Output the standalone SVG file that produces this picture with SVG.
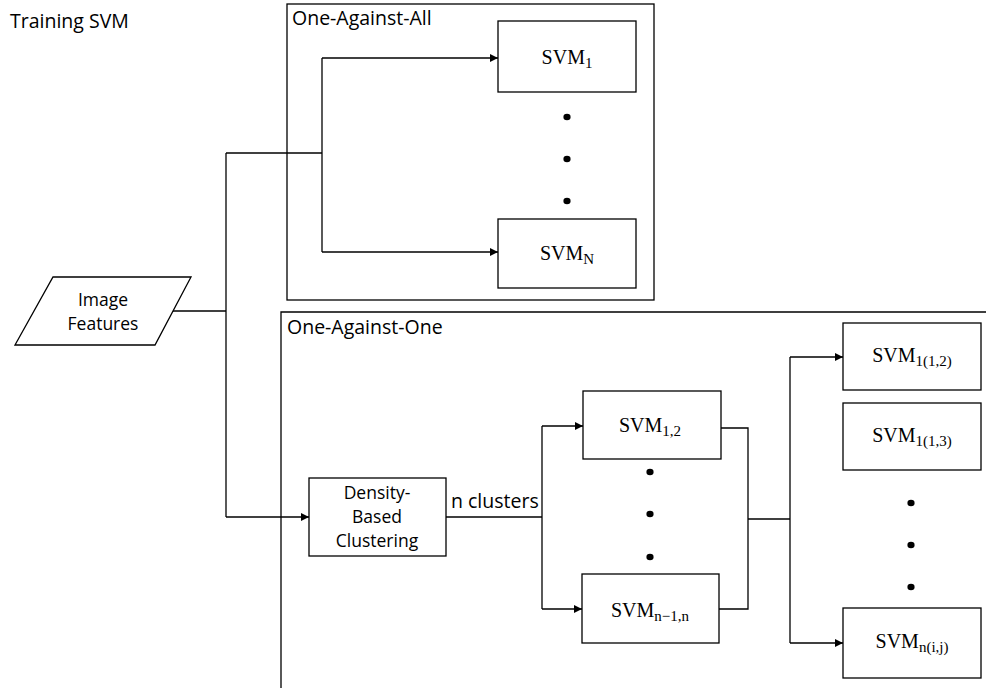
<svg xmlns="http://www.w3.org/2000/svg" width="986" height="688" viewBox="0 0 986 688">
  <defs>
    <marker id="arrow" viewBox="0 0 8 8" refX="8" refY="4" markerWidth="8" markerHeight="8" markerUnits="userSpaceOnUse" orient="auto">
      <path d="M0,0 L8,4 L0,8 Z" fill="#000"/>
    </marker>
  </defs>
  <style>
    .frame { fill: none; stroke: #000; stroke-width: 1.3; }
    .box { fill: #fff; stroke: #000; stroke-width: 1.3; }
    .wire { fill: none; stroke: #000; stroke-width: 1.3; }
    .arr { marker-end: url(#arrow); }
    .sans { font-family: "Open Sans", Lato, "Liberation Sans", sans-serif; font-size: 19.5px; fill: #000; }
    .sans.multi { font-size: 17.5px; }
    .math { font-family: "Liberation Serif", "DejaVu Serif", serif; font-size: 20px; fill: #000; }
    .sub { font-size: 15px; }
    .dot { fill: #000; }
  </style>

  <rect width="986" height="688" fill="#fff"/>

  <text class="sans" x="10" y="28">Training SVM</text>

  <!-- group frames -->
  <g id="one-against-all">
    <rect class="frame" x="287" y="4" width="367" height="296"/>
    <text class="sans" x="292" y="25">One-Against-All</text>
  </g>
  <g id="one-against-one">
    <path class="frame" d="M281,690 V312 H990"/>
    <text class="sans" x="287" y="334">One-Against-One</text>
  </g>

  <!-- connectors -->
  <g id="connectors">
    <path class="wire" d="M171,311 H226"/>
    <path class="wire" d="M226,153 V517"/>
    <path class="wire" d="M226,153 H322"/>
    <path class="wire" d="M322,58 V252"/>
    <path class="wire arr" d="M322,58 H498"/>
    <path class="wire arr" d="M322,252 H498"/>
    <path class="wire arr" d="M226,517 H309"/>
    <path class="wire" d="M446,517 H542"/>
    <path class="wire" d="M542,426 V609"/>
    <path class="wire arr" d="M542,426 H583"/>
    <path class="wire arr" d="M542,609 H582"/>
    <path class="wire" d="M721,428 H748 V609 H719"/>
    <path class="wire" d="M748,519 H790"/>
    <path class="wire" d="M790,357 V643"/>
    <path class="wire arr" d="M790,357 H843"/>
    <path class="wire arr" d="M790,643 H843"/>
    <text class="sans" x="451" y="508">n clusters</text>
  </g>

  <!-- input -->
  <g id="image-features">
    <path class="box" d="M53,277 H191 L155,345 H15 Z"/>
    <text class="sans multi" x="103" y="306" text-anchor="middle">Image</text>
    <text class="sans multi" x="103" y="330" text-anchor="middle">Features</text>
  </g>

  <!-- one-against-all classifiers -->
  <g id="svm-1">
    <rect class="box" x="498" y="21" width="138" height="71"/>
    <text class="math" x="567" y="64" text-anchor="middle">SVM<tspan class="sub" dy="4">1</tspan></text>
  </g>
  <g id="svm-N">
    <rect class="box" x="498" y="219" width="138" height="69"/>
    <text class="math" x="567" y="260" text-anchor="middle">SVM<tspan class="sub" dy="4">N</tspan></text>
  </g>
  <g id="oaa-dots">
    <ellipse class="dot" cx="567" cy="117" rx="3.6" ry="3.3"/>
    <ellipse class="dot" cx="567" cy="159" rx="3.6" ry="3.3"/>
    <ellipse class="dot" cx="567" cy="201" rx="3.6" ry="3.3"/>
  </g>

  <!-- clustering -->
  <g id="density-clustering">
    <rect class="box" x="309" y="478" width="137" height="78"/>
    <text class="sans multi" x="377" y="499" text-anchor="middle">Density-</text>
    <text class="sans multi" x="377" y="523" text-anchor="middle">Based</text>
    <text class="sans multi" x="377" y="547" text-anchor="middle">Clustering</text>
  </g>

  <!-- pairwise classifiers -->
  <g id="svm-1-2">
    <rect class="box" x="583" y="391" width="138" height="68"/>
    <text class="math" x="650" y="432" text-anchor="middle">SVM<tspan class="sub" dy="4">1,2</tspan></text>
  </g>
  <g id="svm-n-1-n">
    <rect class="box" x="582" y="574" width="137" height="69"/>
    <text class="math" x="650" y="617" text-anchor="middle">SVM<tspan class="sub" dy="4">n−1,n</tspan></text>
  </g>
  <g id="oao-dots">
    <ellipse class="dot" cx="650" cy="472" rx="3.6" ry="3.3"/>
    <ellipse class="dot" cx="650" cy="514" rx="3.6" ry="3.3"/>
    <ellipse class="dot" cx="650" cy="557" rx="3.6" ry="3.3"/>
  </g>

  <!-- cluster-level classifiers -->
  <g id="svm-1-1-2">
    <rect class="box" x="843" y="323" width="138" height="67"/>
    <text class="math" x="912" y="362" text-anchor="middle">SVM<tspan class="sub" dy="4">1(1,2)</tspan></text>
  </g>
  <g id="svm-1-1-3">
    <rect class="box" x="843" y="403" width="138" height="67"/>
    <text class="math" x="912" y="442" text-anchor="middle">SVM<tspan class="sub" dy="4">1(1,3)</tspan></text>
  </g>
  <g id="svm-n-i-j">
    <rect class="box" x="843" y="608" width="138" height="70"/>
    <text class="math" x="912" y="648" text-anchor="middle">SVM<tspan class="sub" dy="4">n(i,j)</tspan></text>
  </g>
  <g id="cluster-dots">
    <ellipse class="dot" cx="911" cy="503" rx="3.6" ry="3.3"/>
    <ellipse class="dot" cx="911" cy="545" rx="3.6" ry="3.3"/>
    <ellipse class="dot" cx="911" cy="587" rx="3.6" ry="3.3"/>
  </g>
</svg>
